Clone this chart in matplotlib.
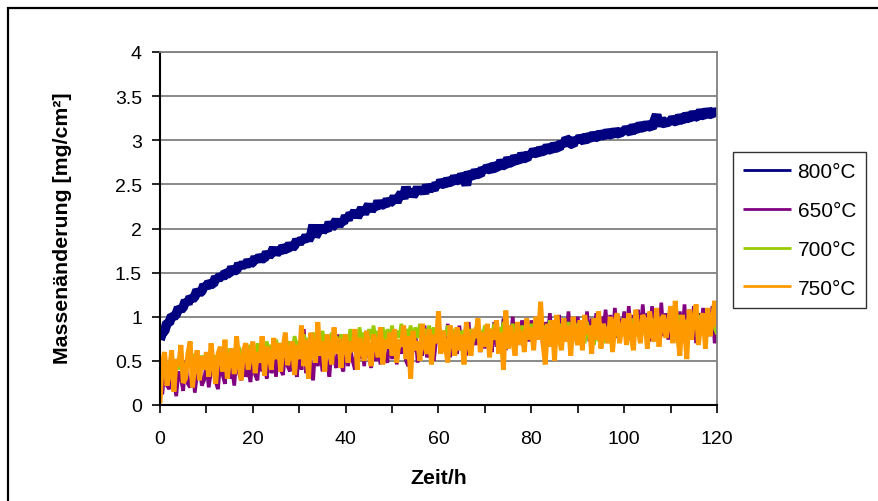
import numpy as np
import matplotlib
matplotlib.use("Agg")
import matplotlib.pyplot as plt
from matplotlib.patches import Rectangle

plt.rcParams['font.family'] = ['Liberation Sans', 'DejaVu Sans']

# Measurement time grid: one reading every 0.5 h, 0 ... 120 h
time_step_h = 0.5

mass_800 = [
    0.74, 0.82, 0.84, 0.93, 0.93, 1.01, 1.00, 1.03, 1.10, 1.08, 1.11, 1.18, 1.15, 1.22, 1.20, 1.23, 1.30, 1.27, 1.29, 1.36,
    1.33, 1.39, 1.37, 1.37, 1.45, 1.42, 1.47, 1.44, 1.50, 1.49, 1.49, 1.56, 1.52, 1.53, 1.60, 1.56, 1.61, 1.57, 1.64, 1.60,
    1.62, 1.67, 1.63, 1.69, 1.66, 1.66, 1.73, 1.69, 1.72, 1.78, 1.71, 1.75, 1.73, 1.80, 1.77, 1.76, 1.83, 1.78, 1.81, 1.87,
    1.83, 1.88, 1.86, 1.92, 1.87, 1.92, 2.04, 1.91, 1.96, 2.03, 1.97, 2.00, 1.98, 2.07, 2.01, 2.04, 2.10, 2.03, 2.08, 2.07,
    2.14, 2.10, 2.17, 2.14, 2.20, 2.13, 2.18, 2.23, 2.17, 2.22, 2.27, 2.20, 2.25, 2.23, 2.31, 2.25, 2.28, 2.26, 2.33, 2.29,
    2.31, 2.36, 2.30, 2.36, 2.40, 2.34, 2.47, 2.37, 2.43, 2.37, 2.41, 2.46, 2.41, 2.45, 2.40, 2.49, 2.44, 2.47, 2.44, 2.51,
    2.48, 2.54, 2.51, 2.49, 2.56, 2.53, 2.52, 2.59, 2.55, 2.54, 2.61, 2.58, 2.49, 2.64, 2.60, 2.58, 2.66, 2.62, 2.61, 2.68,
    2.65, 2.70, 2.68, 2.65, 2.73, 2.70, 2.69, 2.77, 2.72, 2.71, 2.80, 2.75, 2.74, 2.82, 2.78, 2.76, 2.85, 2.80, 2.79, 2.85,
    2.83, 2.89, 2.86, 2.84, 2.91, 2.88, 2.87, 2.94, 2.90, 2.88, 2.96, 2.92, 2.91, 2.98, 2.94, 3.02, 3.00, 2.96, 2.95, 3.02,
    2.99, 3.04, 3.01, 2.98, 3.06, 3.03, 3.01, 3.08, 3.04, 3.03, 3.09, 3.06, 3.04, 3.11, 3.07, 3.05, 3.12, 3.08, 3.07, 3.11,
    3.09, 3.14, 3.11, 3.08, 3.17, 3.13, 3.11, 3.19, 3.15, 3.13, 3.20, 3.16, 3.14, 3.22, 3.29, 3.16, 3.24, 3.20, 3.18, 3.23,
    3.19, 3.26, 3.22, 3.20, 3.28, 3.24, 3.22, 3.30, 3.26, 3.24, 3.32, 3.27, 3.26, 3.34, 3.29, 3.27, 3.35, 3.30, 3.29, 3.34, 3.31,
]

mass_650 = [
    0.32, 0.12, 0.40, 0.22, 0.18, 0.46, 0.26, 0.10, 0.38, 0.30, 0.16, 0.50, 0.24, 0.20, 0.44, 0.14, 0.36, 0.48, 0.22, 0.28,
    0.46, 0.20, 0.38, 0.54, 0.26, 0.18, 0.50, 0.34, 0.24, 0.58, 0.30, 0.42, 0.22, 0.56, 0.36, 0.28, 0.60, 0.32, 0.40, 0.26,
    0.56, 0.34, 0.28, 0.62, 0.38, 0.46, 0.30, 0.66, 0.36, 0.52, 0.32, 0.68, 0.40, 0.34, 0.60, 0.44, 0.38, 0.70, 0.42, 0.32,
    0.64, 0.40, 0.86, 0.36, 0.56, 0.46, 0.28, 0.70, 0.44, 0.62, 0.38, 0.76, 0.48, 0.32, 0.68, 0.50, 0.42, 0.80, 0.46, 0.38,
    0.72, 0.44, 0.64, 0.50, 0.40, 0.78, 0.52, 0.70, 0.44, 0.84, 0.56, 0.42, 0.74, 0.50, 0.66, 0.46, 0.82, 0.54, 0.48, 0.76,
    0.52, 0.80, 0.46, 0.70, 0.58, 0.88, 0.50, 0.44, 0.78, 0.60, 0.84, 0.48, 0.72, 0.56, 0.90, 0.54, 0.62, 0.80, 0.50, 0.74,
    0.86, 0.58, 0.76, 0.62, 0.92, 0.54, 0.80, 0.66, 0.58, 0.90, 0.64, 0.84, 0.56, 0.94, 0.62, 0.78, 0.68, 0.96, 0.60, 0.84,
    0.64, 0.90, 0.70, 0.60, 0.94, 0.66, 0.86, 0.72, 0.98, 0.62, 0.88, 0.70, 1.00, 0.66, 0.84, 0.74, 0.96, 0.68, 0.92, 0.72,
    0.96, 0.68, 0.90, 0.74, 1.00, 0.66, 0.94, 0.78, 1.04, 0.70, 0.92, 0.76, 1.02, 0.68, 0.96, 0.74, 1.06, 0.72, 0.98, 0.76,
    1.00, 0.74, 0.94, 0.80, 1.06, 0.72, 0.98, 0.82, 1.04, 0.76, 1.00, 0.84, 1.08, 0.74, 1.02, 0.78, 1.10, 0.76, 0.98, 0.82,
    1.06, 0.78, 1.12, 0.74, 1.02, 0.80, 1.08, 0.76, 1.14, 0.82, 1.04, 0.72, 1.12, 0.80, 1.06, 0.76, 1.16, 0.78, 1.04, 0.74,
    1.10, 0.80, 1.16, 0.72, 1.06, 0.78, 1.14, 0.74, 1.08, 0.82, 1.12, 0.70, 1.04, 0.80, 1.10, 0.72, 1.08, 0.78, 1.12, 0.70, 0.84,
]

mass_700 = [
    0.42, 0.34, 0.50, 0.38, 0.46, 0.54, 0.36, 0.48, 0.40, 0.56, 0.44, 0.38, 0.52, 0.46, 0.58, 0.40, 0.50, 0.44, 0.56, 0.48,
    0.52, 0.44, 0.60, 0.48, 0.56, 0.46, 0.62, 0.50, 0.58, 0.48, 0.64, 0.52, 0.60, 0.50, 0.66, 0.54, 0.58, 0.52, 0.68, 0.56,
    0.62, 0.54, 0.70, 0.58, 0.66, 0.56, 0.72, 0.60, 0.68, 0.58, 0.74, 0.62, 0.70, 0.60, 0.76, 0.64, 0.72, 0.62, 0.78, 0.66,
    0.72, 0.64, 0.80, 0.66, 0.76, 0.62, 0.82, 0.68, 0.78, 0.64, 0.84, 0.70, 0.76, 0.66, 0.82, 0.70, 0.78, 0.64, 0.80, 0.68,
    0.78, 0.68, 0.86, 0.70, 0.80, 0.66, 0.88, 0.72, 0.82, 0.70, 0.86, 0.74, 0.90, 0.72, 0.84, 0.76, 0.88, 0.70, 0.86, 0.74,
    0.90, 0.72, 0.84, 0.76, 0.92, 0.74, 0.86, 0.78, 0.90, 0.72, 0.88, 0.76, 0.92, 0.74, 0.86, 0.78, 0.90, 0.76, 0.88, 0.74,
    0.88, 0.74, 0.84, 0.78, 0.90, 0.72, 0.86, 0.76, 0.88, 0.74, 0.84, 0.78, 0.92, 0.76, 0.86, 0.72, 0.88, 0.76, 0.84, 0.78,
    0.90, 0.76, 0.86, 0.80, 0.92, 0.74, 0.88, 0.78, 0.94, 0.76, 0.86, 0.80, 0.92, 0.78, 0.88, 0.76, 0.90, 0.80, 0.86, 0.78,
    0.92, 0.78, 0.88, 0.82, 0.94, 0.76, 0.90, 0.80, 0.96, 0.78, 0.88, 0.82, 0.92, 0.76, 0.90, 0.80, 0.94, 0.78, 0.90, 0.82,
    0.92, 0.76, 0.88, 0.70, 0.94, 0.74, 0.86, 0.68, 0.90, 0.72, 0.92, 0.70, 0.88, 0.76, 0.94, 0.74, 0.90, 0.78, 0.92, 0.80,
    0.96, 0.82, 0.92, 0.78, 0.98, 0.84, 0.94, 0.80, 1.00, 0.82, 0.96, 0.86, 0.98, 0.80, 0.94, 0.84, 1.00, 0.82, 0.96, 0.86,
    0.98, 0.84, 0.94, 0.88, 1.02, 0.82, 0.96, 0.86, 1.00, 0.84, 0.98, 0.88, 1.02, 0.82, 0.96, 0.86, 1.00, 0.84, 0.98, 0.88, 0.80,
]

mass_750 = [
    0.02, 0.48, 0.60, 0.22, 0.35, 0.62, 0.15, 0.52, 0.44, 0.68, 0.25, 0.30, 0.58, 0.72, 0.20, 0.46, 0.62, 0.28, 0.55, 0.40,
    0.60, 0.32, 0.70, 0.45, 0.24, 0.58, 0.66, 0.38, 0.74, 0.30, 0.52, 0.64, 0.35, 0.78, 0.46, 0.28, 0.62, 0.70, 0.40, 0.56,
    0.72, 0.36, 0.60, 0.48, 0.78, 0.33, 0.66, 0.58, 0.40, 0.76, 0.52, 0.70, 0.38, 0.64, 0.82, 0.45, 0.60, 0.72, 0.34, 0.68,
    0.52, 0.90, 0.44, 0.74, 0.30, 0.82, 0.62, 0.48, 0.94, 0.56, 0.72, 0.38, 0.80, 0.64, 0.46, 0.88, 0.58, 0.76, 0.42, 0.70,
    0.80, 0.48, 0.72, 0.60, 0.86, 0.40, 0.76, 0.66, 0.50, 0.84, 0.62, 0.44, 0.80, 0.70, 0.54, 0.88, 0.46, 0.74, 0.64, 0.82,
    0.56, 0.86, 0.48, 0.74, 0.66, 0.90, 0.52, 0.78, 0.30, 0.84, 0.62, 0.72, 0.50, 0.92, 0.68, 0.58, 0.86, 0.46, 0.80, 0.70,
    1.06, 0.58, 0.84, 0.66, 0.48, 0.90, 0.74, 0.56, 0.88, 0.62, 0.80, 0.46, 0.94, 0.70, 0.56, 0.86, 0.76, 0.98, 0.60, 0.82,
    0.66, 0.92, 0.54, 0.86, 0.74, 0.96, 0.58, 0.82, 0.40, 1.07, 0.64, 0.90, 0.72, 0.56, 0.94, 0.68, 0.84, 0.60, 0.98, 0.74,
    0.88, 0.62, 1.00, 0.74, 1.17, 0.70, 0.46, 0.92, 0.66, 0.96, 0.50, 1.02, 0.76, 0.62, 0.98, 0.72, 0.90, 0.56, 1.00, 0.78,
    0.68, 0.96, 0.62, 1.02, 0.80, 0.90, 0.58, 0.98, 0.74, 1.06, 0.64, 0.92, 0.82, 0.70, 1.00, 0.60, 0.94, 1.04, 0.70, 0.88,
    0.98, 0.68, 1.04, 0.78, 0.62, 1.08, 0.86, 0.70, 1.02, 0.96, 0.64, 1.06, 0.80, 0.72, 1.10, 0.66, 0.94, 1.02, 0.76, 0.90,
    1.12, 0.70, 1.18, 0.80, 0.56, 1.02, 0.88, 0.52, 1.08, 0.74, 0.98, 1.14, 0.68, 0.92, 1.04, 0.64, 1.10, 0.78, 0.96, 1.18, 0.88,
]

series_labels = ["800°C", "650°C", "700°C", "750°C"]
series_colors = ["#000080", "#800080", "#99CC00", "#FF9900"]
series_widths = [7.0, 2.6, 2.6, 3.5]
series_values = [mass_800, mass_650, mass_700, mass_750]

x_ticks = [0, 20, 40, 60, 80, 100, 120]
y_ticks = [0, 0.5, 1, 1.5, 2, 2.5, 3, 3.5, 4]
y_tick_labels = ["0", "0.5", "1", "1.5", "2", "2.5", "3", "3.5", "4"]

W, H = 879, 502
fig = plt.figure(figsize=(W / 100, H / 100), dpi=100)

# Outer chart frame (open towards the right and bottom edges)
fig.patches.append(Rectangle((8 / W, -0.2), 1.5, 1.2 - 9 / H,
                             transform=fig.transFigure, fill=False,
                             edgecolor="black", linewidth=1.6))

ax = fig.add_axes([160 / W, 1 - 406 / H, (717 - 160) / W, (406 - 53) / H])

for vals, lab, col, lw in zip(series_values, series_labels, series_colors, series_widths):
    t = np.arange(len(vals)) * time_step_h
    ax.plot(t, vals, color=col, linewidth=lw, label=lab,
            solid_joinstyle="bevel", solid_capstyle="butt")

ax.set_xlim(0, 120)
ax.set_ylim(0, 4)
ax.set_xticks(x_ticks)
ax.set_xticks(np.arange(0, 121, 10), minor=True)
ax.set_yticks(y_ticks)
ax.set_yticklabels(y_tick_labels)

ax.yaxis.grid(True, color="#808080", linewidth=1.3)
ax.set_axisbelow(True)

for side in ("left", "bottom"):
    ax.spines[side].set_color("black")
    ax.spines[side].set_linewidth(1.5)
for side in ("top", "right"):
    ax.spines[side].set_color("#808080")
    ax.spines[side].set_linewidth(1.3)

ax.tick_params(axis="x", which="both", direction="out", length=6, width=1.2,
               labelsize=14, pad=12)
ax.tick_params(axis="y", which="major", direction="out", length=6, width=1.2,
               labelsize=14, pad=7)

fig.text(63 / W, 1 - 228 / H, "Massenänderung [mg/cm²]", rotation=90,
         ha="center", va="center", fontsize=15.3, fontweight="bold")
fig.text(439 / W, 1 - 479 / H, "Zeit/h", ha="center", va="center",
         fontsize=15.3, fontweight="bold")

leg = ax.legend(loc="upper left", bbox_to_anchor=((733 - 160) / 557, (406 - 153) / 353),
                borderaxespad=0, frameon=True, fancybox=False, fontsize=15,
                handlelength=2.3, handletextpad=0.3, labelspacing=0.95,
                borderpad=0.5)
leg.get_frame().set_edgecolor("black")
leg.get_frame().set_linewidth(1.0)
for line in leg.get_lines():
    line.set_linewidth(2.0)

fig.savefig("out.png", dpi=100)
